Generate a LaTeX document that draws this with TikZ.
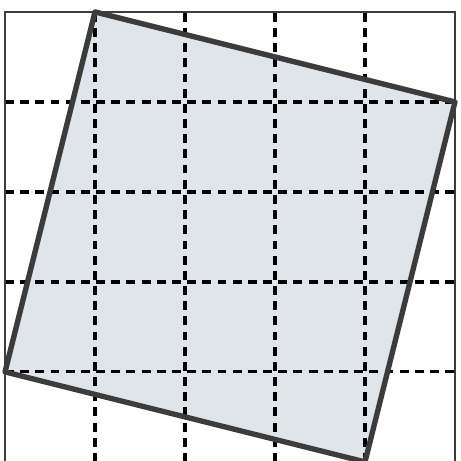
\documentclass[tikz,border=0pt]{standalone}
\usepackage{xcolor}
\usepackage{tikz}
\usetikzlibrary{calc}
\definecolor{tiltfill}{RGB}{224,229,235}
\definecolor{edge}{RGB}{60,60,60}

\begin{document}
\begin{tikzpicture}[
  frame/.style={draw=edge,line width=0.7pt},
  gridline/.style={draw=black,line width=1pt,dash pattern=on 2.8pt off 2pt},
  tilted/.style={draw=edge,line width=1.7pt,line join=round},
]
\useasboundingbox (-0.056,0.011) rectangle (5.067,5.133);

% corners of the tilted square
\coordinate (top) at (1,5);
\coordinate (right) at (5,4);
\coordinate (bottom) at (4,0);
\coordinate (left) at (0,1);

\fill[tiltfill] (top) -- (right) -- (bottom) -- (left) -- cycle;

\foreach \i in {1,...,4} {
  \draw[gridline] (\i,0) -- (\i,5);
  \draw[gridline] (0,\i) -- (5,\i);
}

\draw[frame] (0,0) rectangle (5,5);
\draw[tilted] (top) -- (right) -- (bottom) -- (left) -- cycle;

\end{tikzpicture}
\end{document}
